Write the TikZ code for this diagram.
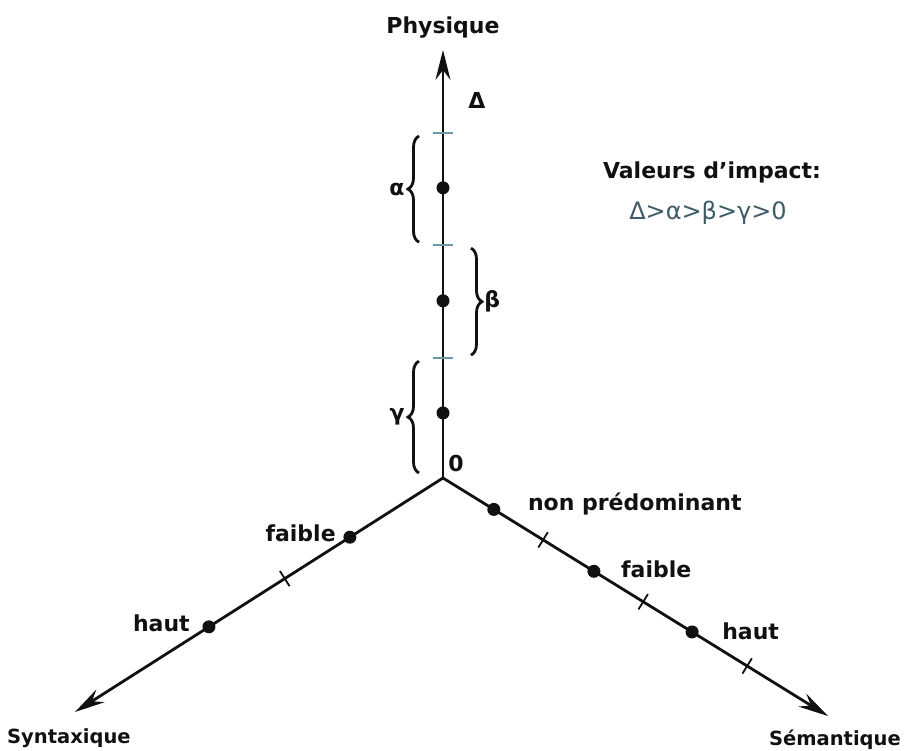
\documentclass[tikz,border=0pt]{standalone}
\usepackage{fontspec}
\setmainfont{DejaVu Sans}
\usetikzlibrary{positioning, calc, arrows.meta, decorations.pathreplacing}
\definecolor{Ink}{HTML}{111111}
\definecolor{TickBlue}{HTML}{6A96A6}
\definecolor{Order}{HTML}{3E5C68}
\tikzset{
    axis/.style={line width=2.8pt, color=Ink, -{Stealth[length=30pt, width=15pt, inset=10pt]}},
    valdot/.style={circle, fill=Ink, inner sep=0pt, minimum size=13pt},
    lbl/.style={font=\fontsize{22}{26}\selectfont\bfseries, text=Ink, inner sep=1pt},
    endlbl/.style={lbl, font=\fontsize{19.5}{24}\selectfont\bfseries},
    vtick/.style={line width=1.8pt, color=TickBlue},
    dtick/.style={line width=1.8pt, color=Ink},
    accolade/.style={decorate, decoration={brace, amplitude=11pt}, line width=2.8pt, color=Ink},
}

\begin{document}
\begin{tikzpicture}[x=1pt, y=1pt]
    \useasboundingbox (0,0) rectangle (906,751);

    % Origine et extremites des trois axes
    \coordinate (O) at (443,273);
    \coordinate (P) at (443,701);
    \coordinate (S) at (75,39);
    \coordinate (M) at (828,35);

    % Axes
    \draw[axis] (O) -- (P);
    \draw[axis] (O) -- (S);
    \draw[axis] (O) -- (M);

    % Graduations de l'axe physique
    \foreach \t/\n in {0.28/t1, 0.544/t2, 0.806/t3}
        \coordinate (\n) at ($(O)!\t!(P)$);
    \foreach \n in {t1, t2, t3}
        \draw[vtick] ($(\n)+(-10,0)$) -- ($(\n)+(10,0)$);

    % Graduations des axes obliques
    \coordinate (st1) at ($(O)!0.43!(S)$);
    \draw[dtick] ($(st1)!9pt!90:(S)$) -- ($(st1)!9pt!-90:(S)$);
    \foreach \t/\n in {0.26/mt1, 0.52/mt2, 0.79/mt3} {
        \coordinate (\n) at ($(O)!\t!(M)$);
        \draw[dtick] ($(\n)!9pt!90:(M)$) -- ($(\n)!9pt!-90:(M)$);
    }

    % Points de valeur
    \foreach \t/\n in {0.152/pg, 0.414/pb, 0.678/pa}
        \node[valdot] (\n) at ($(O)!\t!(P)$) {};
    \node[valdot] (sf) at ($(O)!0.253!(S)$) {};
    \node[valdot] (sh) at ($(O)!0.636!(S)$) {};
    \node[valdot] (mn) at ($(O)!0.132!(M)$) {};
    \node[valdot] (mf) at ($(O)!0.392!(M)$) {};
    \node[valdot] (mh) at ($(O)!0.647!(M)$) {};

    % Accolades
    \draw[accolade] ($(t2)+(-24,3)$) -- ($(t3)+(-24,-3)$) node[midway, left=12pt, lbl] (alpha) {α};
    \draw[accolade] ($(t2)+(28,-3)$) -- ($(t1)+(28,3)$) node[midway, right=11pt, lbl] (beta) {β};
    \draw[accolade] ($(O)+(-24,5)$) -- ($(t1)+(-24,-3)$) node[midway, left=12pt, lbl] (gamma) {γ};

    % Etiquettes
    \node[lbl] (phys) at (443,723) {Physique};
    \node[lbl] (delta) at (477,651) {Δ};
    \node[lbl] (zero) at (456,287) {0};
    \node[endlbl, anchor=west] (synt) at (6,13) {Syntaxique};
    \node[endlbl, anchor=east] (sema) at (902,11) {Sémantique};

    \node[lbl, anchor=east] (sfl) at ($(sf)+(-13,4)$) {faible};
    \node[lbl, anchor=east] (shl) at ($(sh)+(-18,4)$) {haut};
    \node[lbl, anchor=west] (mnl) at ($(mn)+(33,5)$) {non prédominant};
    \node[lbl, anchor=west] (mfl) at ($(mf)+(26,2)$) {faible};
    \node[lbl, anchor=west] (mhl) at ($(mh)+(29,1)$) {haut};

    % Ordre des valeurs
    \node[lbl] (impact) at (712,579) {Valeurs d'impact:};
    \node[lbl, font=\fontsize{24}{28}\selectfont, text=Order] (ordre) at (708,538) {Δ>α>β>γ>0};
\end{tikzpicture}
\end{document}
